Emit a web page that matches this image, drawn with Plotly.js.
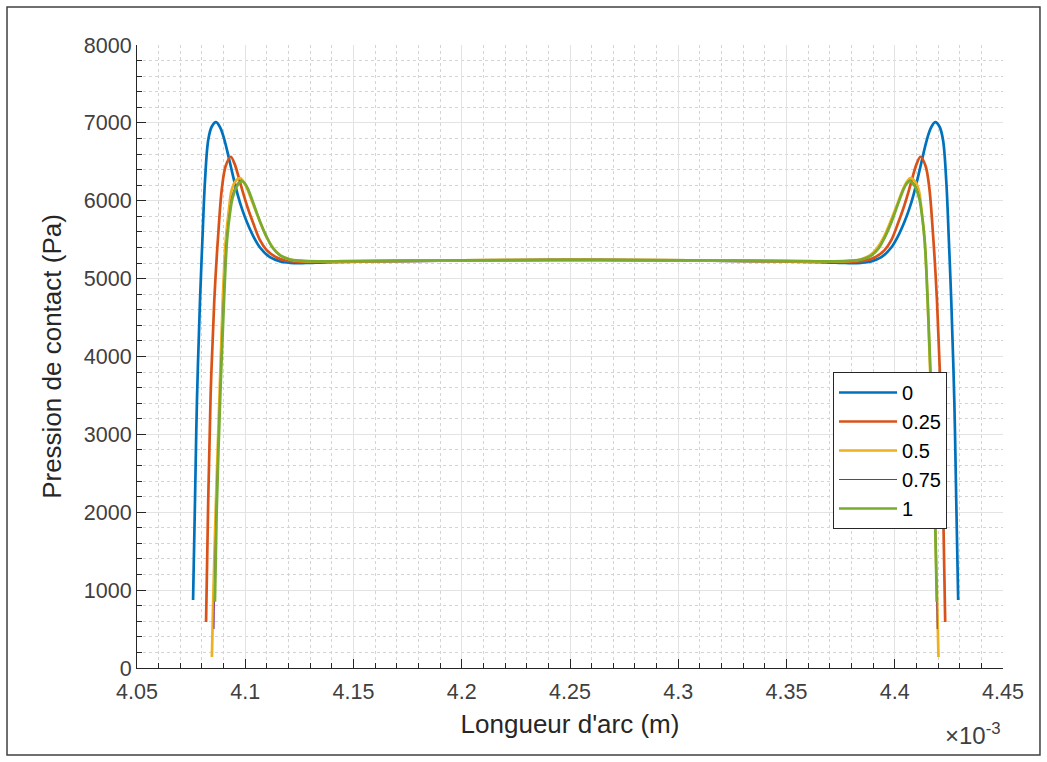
<!DOCTYPE html>
<html>
<head>
<meta charset="utf-8">
<script src="https://cdn.plot.ly/plotly-3.0.1.min.js"></script>
<style>
  html, body { margin: 0; padding: 0; background: #ffffff; }
  #chart { width: 1047px; height: 762px; }
</style>
</head>
<body>
<div id="chart"></div>
<script>
// Series names (legend)
const seriesNames = ["0", "0.25", "0.5", "0.75", "1"];

// Arc length (x10^-3 m) and contact pressure (Pa) for each series
const x_0 = [4.0759, 4.0768, 4.0777, 4.0791, 4.0802, 4.0814, 4.0829, 4.0845, 4.0865, 4.0885, 4.0905, 4.0925, 4.0945, 4.0965, 4.0985, 4.1007, 4.1037, 4.1068, 4.1114, 4.1161, 4.1207, 4.1250, 4.1300, 4.1400,
  4.1600, 4.1900, 4.2200, 4.2525, 4.2850, 4.3150, 4.3450,
  4.3652, 4.3752, 4.3802, 4.3845, 4.3891, 4.3938, 4.3984, 4.4015, 4.4045, 4.4067, 4.4087, 4.4107, 4.4127, 4.4147, 4.4167, 4.4187, 4.4207, 4.4223, 4.4238, 4.4250, 4.4261, 4.4275, 4.4284, 4.4293];
const p_0 = [873, 2160, 3440, 4720, 5490, 6250, 6780, 6950, 7010, 6935, 6770, 6540, 6300, 6080, 5895, 5730, 5545, 5400, 5275, 5222, 5203, 5198, 5203, 5213,
  5222, 5230, 5236, 5240, 5236, 5230, 5222,
  5213, 5203, 5198, 5203, 5222, 5275, 5400, 5545, 5730, 5895, 6080, 6300, 6540, 6770, 6935, 7010, 6950, 6780, 6250, 5490, 4720, 3440, 2160, 873];

const x_025 = [4.0819, 4.0829, 4.0840, 4.0857, 4.0875, 4.0893, 4.0910, 4.0933, 4.0950, 4.0968, 4.0990, 4.1010, 4.1037, 4.1068, 4.1099, 4.1145, 4.1191, 4.1238, 4.1300, 4.1400,
  4.1600, 4.1900, 4.2200, 4.2525, 4.2850, 4.3150, 4.3450,
  4.3652, 4.3752, 4.3814, 4.3861, 4.3907, 4.3953, 4.3984, 4.4015, 4.4042, 4.4062, 4.4084, 4.4102, 4.4119, 4.4142, 4.4159, 4.4177, 4.4195, 4.4212, 4.4223, 4.4233];
const p_025 = [590, 2160, 3500, 4720, 5560, 6180, 6450, 6565, 6480, 6320, 6100, 5920, 5710, 5494, 5366, 5272, 5229, 5216, 5215, 5218,
  5224, 5231, 5237, 5240, 5237, 5231, 5224,
  5218, 5215, 5216, 5229, 5272, 5366, 5494, 5710, 5920, 6100, 6320, 6480, 6565, 6450, 6180, 5560, 4720, 3500, 2160, 590];

const x_05 = [4.0846, 4.0852, 4.0865, 4.0881, 4.0896, 4.0910, 4.0925, 4.0937, 4.0953, 4.0976, 4.0995, 4.1014, 4.1037, 4.1068, 4.1099, 4.1130, 4.1161, 4.1207, 4.1253, 4.1345, 4.1450,
  4.1600, 4.1900, 4.2200, 4.2525, 4.2850, 4.3150, 4.3450,
  4.3598, 4.3703, 4.3795, 4.3841, 4.3887, 4.3918, 4.3949, 4.3980, 4.4011, 4.4034, 4.4053, 4.4072, 4.4095, 4.4111, 4.4123, 4.4138, 4.4152, 4.4167, 4.4183, 4.4196, 4.4202];
const p_05 = [141, 873, 2160, 3500, 4720, 5494, 5900, 6136, 6243, 6290, 6230, 6120, 5950, 5730, 5530, 5390, 5302, 5246, 5229, 5220, 5222,
  5226, 5232, 5237, 5240, 5237, 5232, 5226,
  5222, 5220, 5229, 5246, 5302, 5390, 5530, 5730, 5950, 6120, 6230, 6290, 6243, 6136, 5900, 5494, 4720, 3500, 2160, 873, 141];

const x_075 = [4.0856, 4.0864, 4.0882, 4.0899, 4.0913, 4.0928, 4.0939, 4.0960, 4.0982, 4.0998, 4.1012, 4.1039, 4.1068, 4.1100, 4.1129, 4.1161, 4.1207, 4.1253, 4.1345, 4.1450,
  4.1600, 4.1900, 4.2200, 4.2525, 4.2850, 4.3150, 4.3450,
  4.3602, 4.3707, 4.3799, 4.3845, 4.3891, 4.3923, 4.3952, 4.3984, 4.4013, 4.4040, 4.4054, 4.4070, 4.4092, 4.4113, 4.4124, 4.4139, 4.4153, 4.4170, 4.4188, 4.4196];
const p_075 = [500, 1900, 3440, 4720, 5494, 5870, 6060, 6210, 6265, 6225, 6150, 5955, 5740, 5535, 5392, 5300, 5246, 5230, 5221, 5223,
  5227, 5233, 5238, 5241, 5238, 5233, 5227,
  5223, 5221, 5230, 5246, 5300, 5392, 5535, 5740, 5955, 6150, 6225, 6265, 6210, 6060, 5870, 5494, 4720, 3440, 1900, 500];

const x_1 = [4.0860, 4.0868, 4.0884, 4.0902, 4.0916, 4.0930, 4.0941, 4.0962, 4.0985, 4.1000, 4.1013, 4.1040, 4.1068, 4.1100, 4.1128, 4.1161, 4.1207, 4.1253, 4.1345, 4.1450,
  4.1600, 4.1900, 4.2200, 4.2525, 4.2850, 4.3150, 4.3450,
  4.3604, 4.3709, 4.3801, 4.3847, 4.3893, 4.3926, 4.3954, 4.3986, 4.4014, 4.4041, 4.4054, 4.4069, 4.4092, 4.4113, 4.4124, 4.4138, 4.4152, 4.4170, 4.4186, 4.4194];
const p_1 = [850, 2000, 3440, 4720, 5494, 5850, 6030, 6190, 6252, 6215, 6150, 5950, 5735, 5530, 5390, 5300, 5246, 5230, 5222, 5224,
  5227, 5233, 5238, 5241, 5238, 5233, 5227,
  5224, 5222, 5230, 5246, 5300, 5390, 5530, 5735, 5950, 6150, 6215, 6252, 6190, 6030, 5850, 5494, 4720, 3440, 2000, 850];

const seriesX = [x_0, x_025, x_05, x_075, x_1];
const seriesY = [p_0, p_025, p_05, p_075, p_1];
const colors = ["#0072BD", "#D95319", "#EDB120", "#7E2F8E", "#77AC30"];
const widths = [2.7, 2.7, 2.7, 1, 2.7];

const traces = seriesNames.map((name, i) => ({
  type: "scatter",
  mode: "lines",
  name: name,
  x: seriesX[i],
  y: seriesY[i],
  legendgroup: "g" + i,
  line: { color: colors[i], width: widths[i], shape: "spline", smoothing: 1 }
}));

const font = "'Liberation Sans', Arial, Helvetica, sans-serif";
const axisCommon = {
  showline: true,
  linecolor: "#262626",
  linewidth: 1,
  mirror: false,
  ticks: "inside",
  ticklen: 9,
  tickwidth: 1,
  tickcolor: "#262626",
  showgrid: true,
  gridcolor: "#e3e3e3",
  gridwidth: 1,
  zeroline: false,
  tickfont: { family: font, size: 21.5, color: "#404040" }
};

const layout = {
  width: 1047,
  height: 762,
  margin: { l: 137, r: 44, t: 45, b: 94 },
  paper_bgcolor: "#ffffff",
  plot_bgcolor: "#ffffff",
  showlegend: true,
  xaxis: Object.assign({}, axisCommon, {
    range: [4.05, 4.45],
    dtick: 0.05,
    tick0: 4.05,
    ticklabelstandoff: 4,
    title: { text: "Longueur d'arc (m)", font: { family: font, size: 26, color: "#262626" }, standoff: 12 },
    minor: { dtick: 0.01, showgrid: true, gridcolor: "#d4d4d4", griddash: "dot", gridwidth: 1, ticks: "inside", ticklen: 5, tickcolor: "#262626" }
  }),
  yaxis: Object.assign({}, axisCommon, {
    range: [0, 8000],
    dtick: 1000,
    title: { text: "Pression de contact (Pa)", font: { family: font, size: 26, color: "#262626" }, standoff: 14 },
    minor: { dtick: 200, showgrid: true, gridcolor: "#d4d4d4", griddash: "dot", gridwidth: 1, ticks: "inside", ticklen: 5, tickcolor: "#262626" }
  }),
  legend: {
    x: 0.8037, y: 0.4751, xanchor: "left", yanchor: "top",
    bgcolor: "#ffffff",
    bordercolor: "#262626",
    borderwidth: 1,
    font: { family: font, size: 20, color: "#000000" },
    itemwidth: 58,
    traceorder: "grouped",
    tracegroupgap: 0
  },
  annotations: [
    { xref: "paper", yref: "paper", x: 1.0, y: -0.078, xanchor: "right", yanchor: "top", showarrow: false,
      text: "×10<sup>-3</sup>", font: { family: font, size: 24, color: "#404040" } }
  ],
  shapes: [
    { type: "rect", xref: "paper", yref: "paper", x0: -0.1501, x1: 1.0427, y0: -0.1396, y1: 1.061,
      line: { color: "#404040", width: 1.5 }, fillcolor: "rgba(0,0,0,0)", layer: "below" }
  ]
};

Plotly.newPlot("chart", traces, layout, { displayModeBar: false, staticPlot: true });
</script>
</body>
</html>
